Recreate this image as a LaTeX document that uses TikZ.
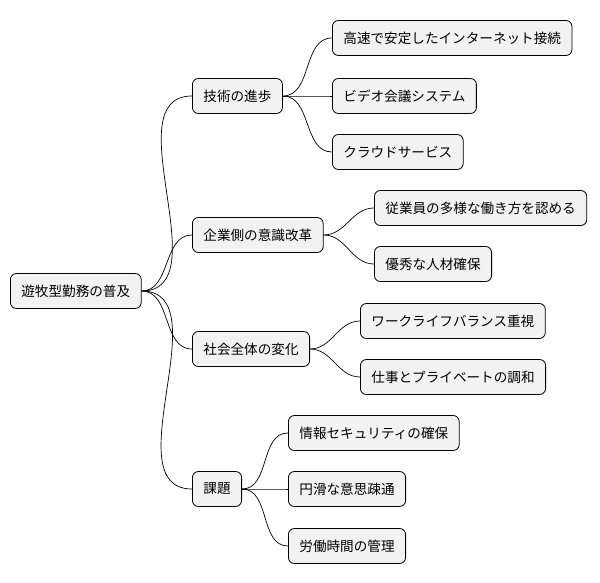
\documentclass[tikz,border=0pt]{standalone}
\usepackage{fontspec}
\setmainfont{Noto Sans CJK JP}
\begin{document}
\begin{tikzpicture}[x=1pt,y=-1pt,
  box/.style={draw=black,line width=0.8pt,fill=gray!10,rounded corners=6pt,minimum height=35pt,inner xsep=11pt,font=\fontsize{13.6}{15}\selectfont,anchor=west},
  link/.style={draw=black,line width=0.7pt}]
\useasboundingbox (0,0) rectangle (600,583);
\node[box] (r) at (10,291) {遊牧型勤務の普及};
\node[box] (a) at (192,96) {技術の進歩};
\node[box] (b) at (192,235) {企業側の意識改革};
\node[box] (c) at (192,349) {社会全体の変化};
\node[box] (d) at (192,489) {課題};
\node[box] (a1) at (332,38) {高速で安定したインターネット接続};
\node[box] (a2) at (332,96) {ビデオ会議システム};
\node[box] (a3) at (332,152) {クラウドサービス};
\node[box] (b1) at (374,208) {従業員の多様な働き方を認める};
\node[box] (b2) at (374,264) {優秀な人材確保};
\node[box] (c1) at (360,321) {ワークライフバランス重視};
\node[box] (c2) at (360,377) {仕事とプライベートの調和};
\node[box] (d1) at (288,433) {情報セキュリティの確保};
\node[box] (d2) at (288,489) {円滑な意思疎通};
\node[box] (d3) at (288,546) {労働時間の管理};
\foreach \p/\c in {r/a,r/b,r/c,r/d,a/a1,a/a2,a/a3,b/b1,b/b2,c/c1,c/c2,d/d1,d/d2,d/d3}
  \draw[link] (\p.east) to[out=0,in=180] (\c.west);
\end{tikzpicture}
\end{document}
